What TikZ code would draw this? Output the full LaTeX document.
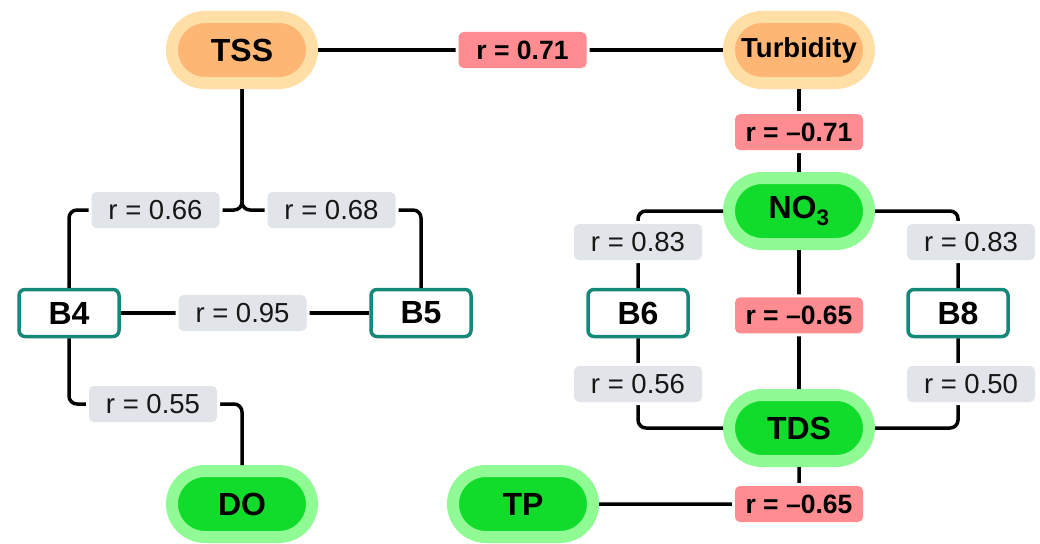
\documentclass[tikz,border=0pt]{standalone}
\usepackage{fontspec}
\setmainfont{Liberation Sans}
\definecolor{peachring}{HTML}{FFDFA6}
\definecolor{peachcore}{HTML}{FDB673}
\definecolor{greenring}{HTML}{90FB94}
\definecolor{greencore}{HTML}{12DC2B}
\definecolor{tealedge}{HTML}{14897A}
\definecolor{labgray}{HTML}{E1E4E9}
\definecolor{labred}{HTML}{FF8C91}
\definecolor{inkdark}{HTML}{161616}
\tikzset{
  pill/.style={rounded corners=33pt, minimum width=140pt, minimum height=66pt,
    line width=12pt, outer sep=6pt, inner sep=0pt, text=black,
    font=\fontsize{32}{38}\selectfont\bfseries},
  orangepill/.style={pill, draw=peachring, fill=peachcore},
  greenpill/.style={pill, draw=greenring, fill=greencore},
  band/.style={draw=tealedge, line width=3.5pt, fill=white, rounded corners=6pt,
    minimum width=100pt, minimum height=47pt, inner sep=0pt,
    font=\fontsize{32}{38}\selectfont\bfseries},
  corr/.style={rounded corners=5pt, minimum width=128pt, minimum height=36pt,
    inner sep=0pt, preaction={draw=white, line width=6pt}},
  graylab/.style={corr, fill=labgray, text=inkdark, font=\fontsize{27.5}{32}\selectfont},
  redlab/.style={corr, fill=labred, text=black, font=\fontsize{26.5}{31}\selectfont\bfseries},
  link/.style={line width=3.5pt, rounded corners=8pt},
}
\begin{document}
\begin{tikzpicture}[x=1pt, y=-1pt]
\useasboundingbox (0,0) rectangle (1040,543);

% parameters
\node[orangepill] (tss) at (242,50) {TSS};
\node[orangepill, font=\fontsize{27.5}{32}\selectfont\bfseries] (turb) at (799,50) {Turbidity};
\node[greenpill] (no3) at (799,211) {NO\textsubscript{3}};
\node[greenpill] (tds) at (799,428) {TDS};
\node[greenpill] (do) at (242,504) {DO};
\node[greenpill] (tp) at (523,504) {TP};

% spectral bands
\node[band] (b4) at (69,313) {B4};
\node[band] (b5) at (421,313) {B5};
\node[band] (b6) at (638,313) {B6};
\node[band] (b8) at (958,313) {B8};

% routing points
\coordinate (fork) at (242,210);
\coordinate (k55) at (153,404);
\coordinate (k83l) at (638,242);
\coordinate (k83r) at (958,242);
\coordinate (k56) at (638,384);
\coordinate (k50) at (958,384);

% correlations
\draw[link] (tss) -- node[redlab, pos=0.505]{r = 0.71} (turb);
\draw[link] (turb) -- node[redlab, pos=0.52]{r = –0.71} (no3);
\draw[link] (tss) -- (fork) -| node[graylab, pos=0.25]{r = 0.66} (b4);
\draw[link] (tss) -- (fork) -| node[graylab, pos=0.25]{r = 0.68} (b5);
\draw[link] (b4) -- node[graylab, pos=0.49]{r = 0.95} (b5);
\draw[link] (b4) |- (k55) node[graylab]{r = 0.55} -| (do);
\draw[link] (no3) -| (k83l) node[graylab]{r = 0.83} -- (b6);
\draw[link] (no3) -| (k83r) node[graylab, xshift=13pt]{r = 0.83} -- (b8);
\draw[link] (no3) -- node[redlab, pos=0.47]{r = –0.65} (tds);
\draw[link] (b6) -- (k56) node[graylab]{r = 0.56} |- (tds);
\draw[link] (b8) -- (k50) node[graylab, xshift=13pt]{r = 0.50} |- (tds);
\draw[link] (tds) |- node[redlab]{r = –0.65} (tp);
\end{tikzpicture}
\end{document}
